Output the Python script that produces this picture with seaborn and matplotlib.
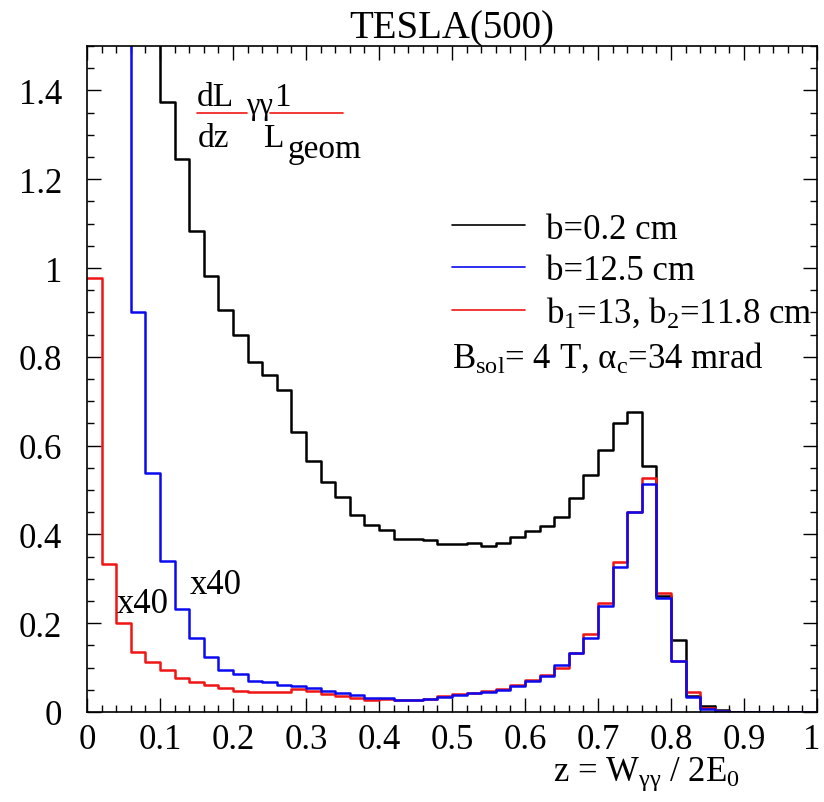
import numpy as np
import pandas as pd
import matplotlib
matplotlib.use("Agg")
import matplotlib.pyplot as plt
import matplotlib.transforms as mtransforms
import seaborn as sns
from matplotlib.lines import Line2D
from matplotlib.ticker import MultipleLocator, FuncFormatter

# ---- data: 50 bins of width 0.02 on z in [0, 1] ----
bin_edges = np.round(np.linspace(0.0, 1.0, 51), 3)
bin_centers = (bin_edges[:-1] + bin_edges[1:]) / 2

# b = 0.2 cm (first bins are off-scale, > 1.5)
black_vals = [2.6, 2.3, 2.0, 1.8, 1.6,
              1.374, 1.246, 1.083, 0.981, 0.906,
              0.849, 0.789, 0.760, 0.726, 0.631,
              0.565, 0.517, 0.484, 0.443, 0.422,
              0.410, 0.389, 0.390, 0.387, 0.378,
              0.378, 0.380, 0.375, 0.381, 0.395,
              0.407, 0.420, 0.439, 0.482, 0.533,
              0.589, 0.651, 0.675, 0.555, 0.261,
              0.162, 0.037, 0.014, 0.005, 0.0,
              0.0, 0.0, 0.0, 0.0, 0.0]

# b = 12.5 cm (x40; first bins off-scale)
blue_vals = [6.0, 4.0, 2.2, 0.900, 0.539,
             0.340, 0.231, 0.166, 0.123, 0.095,
             0.085, 0.070, 0.067, 0.061, 0.059,
             0.055, 0.048, 0.042, 0.038, 0.031,
             0.031, 0.027, 0.027, 0.029, 0.033,
             0.038, 0.042, 0.046, 0.050, 0.058,
             0.069, 0.082, 0.106, 0.133, 0.166,
             0.239, 0.327, 0.451, 0.514, 0.256,
             0.115, 0.033, 0.007, 0.003, 0.0,
             0.0, 0.0, 0.0, 0.0, 0.0]

# b1 = 13, b2 = 11.8 cm (x40)
red_vals = [0.977, 0.334, 0.200, 0.136, 0.112,
            0.095, 0.076, 0.068, 0.061, 0.053,
            0.048, 0.046, 0.044, 0.046, 0.052,
            0.048, 0.040, 0.037, 0.031, 0.028,
            0.030, 0.028, 0.027, 0.030, 0.035,
            0.040, 0.043, 0.048, 0.052, 0.060,
            0.072, 0.084, 0.098, 0.133, 0.175,
            0.245, 0.338, 0.451, 0.526, 0.269,
            0.115, 0.044, 0.010, 0.002, 0.0,
            0.0, 0.0, 0.0, 0.0, 0.0]

legend_labels = ["b=0.2 cm", "b=12.5 cm", r"b$_{\mathrm{1}}$=13, b$_{\mathrm{2}}$=11.8 cm"]
x_ticks = [0, 0.1, 0.2, 0.3, 0.4, 0.5, 0.6, 0.7, 0.8, 0.9, 1.0]
y_ticks = [0, 0.2, 0.4, 0.6, 0.8, 1.0, 1.2, 1.4]

BLACK = "#000000"
BLUE = "#0a0af0"
RED = "#f01414"

# ---- style ----
sns.set_style("ticks")
plt.rcParams["font.family"] = ["Liberation Serif", "DejaVu Serif"]
plt.rcParams["mathtext.fontset"] = "custom"
plt.rcParams["mathtext.rm"] = "Liberation Serif"
plt.rcParams["mathtext.it"] = "Liberation Serif:italic"
plt.rcParams["mathtext.bf"] = "Liberation Serif:bold"
plt.rcParams["text.color"] = "black"
plt.rcParams["axes.labelcolor"] = "black"
plt.rcParams["xtick.color"] = "black"
plt.rcParams["ytick.color"] = "black"

fig, ax = plt.subplots(figsize=(8.24, 8.03), dpi=100)
fig.subplots_adjust(left=87 / 824, right=817 / 824, bottom=1 - 713 / 803, top=1 - 47 / 803)

for vals, col in [(black_vals, BLACK), (red_vals, RED), (blue_vals, BLUE)]:
    df = pd.DataFrame({"z": bin_centers, "w": vals})
    sns.histplot(data=df, x="z", weights="w", bins=list(bin_edges), element="step",
                 fill=False, color=col, linewidth=1.8, ax=ax)

ax.set_xlim(0, 1)
ax.set_ylim(0, 1.5)
ax.set_ylabel("")
ax.set_xticks(x_ticks)
ax.set_yticks(y_ticks)
ax.xaxis.set_minor_locator(MultipleLocator(0.02))
ax.yaxis.set_minor_locator(MultipleLocator(0.05))
fmt = FuncFormatter(lambda v, p: "%g" % round(v, 3))
ax.xaxis.set_major_formatter(fmt)
ax.yaxis.set_major_formatter(fmt)
ax.tick_params(which="both", direction="in", top=True, right=True, width=1.0,
               color="black", labelcolor="black")
ax.tick_params(which="major", length=10)
ax.tick_params(which="minor", length=5)
ax.tick_params(axis="x", which="major", labelsize=25, pad=8)
ax.tick_params(axis="y", which="major", labelsize=25, pad=18)
for s in ax.spines.values():
    s.set_linewidth(1.2)
    s.set_color("black")

# nudge the last x tick label ("1") slightly left so it stays inside the figure
last_lbl = ax.get_xticklabels()[-1]
last_lbl.set_transform(last_lbl.get_transform() +
                       mtransforms.ScaledTranslation(-4 / 72, 0, fig.dpi_scale_trans))

ax.set_title("TESLA(500)", fontsize=28, pad=4, color="black")

ax.set_xlabel(r"z = W$_{\mathrm{γγ}}$ / 2E$_{\mathrm{0}}$", fontsize=25, loc="right")
ax.xaxis.label.set_va("baseline")
ax.xaxis.set_label_coords(0.895, -0.102)

# legend
handles = [Line2D([], [], color=BLACK, lw=1.2),
           Line2D([], [], color=BLUE, lw=1.2),
           Line2D([], [], color=RED, lw=1.2)]
ax.legend(handles, legend_labels, loc="center left", bbox_to_anchor=(0.5, 0.662),
          frameon=False, fontsize=25, borderpad=0, borderaxespad=0,
          handlelength=2.1, handletextpad=0.6, labelspacing=0.24)
ax.text(0.5, 0.518, r"B$_{\mathrm{sol}}$= 4 T, α$_{\mathrm{c}}$=34 mrad",
        transform=ax.transAxes, fontsize=25, va="baseline", ha="left")

# x40 labels
ax.text(0.041, 0.226, "x40", fontsize=25, va="baseline", ha="left")
ax.text(0.141, 0.269, "x40", fontsize=25, va="baseline", ha="left")

# broken fraction annotation dL_gg/dz * 1/L_geom
fs = 24
ax.text(0.150, 1.368, "dL", fontsize=fs, va="baseline")
ax.text(0.218, 1.348, "γγ", fontsize=fs - 2, va="baseline")
ax.text(0.257, 1.368, "1", fontsize=fs, va="baseline")
ax.text(0.152, 1.274, "dz", fontsize=fs, va="baseline")
ax.text(0.243, 1.274, "L", fontsize=fs, va="baseline")
ax.text(0.275, 1.251, "geom", fontsize=fs, va="baseline")
ax.add_line(Line2D([0.150, 0.219], [1.348, 1.348], color=RED, lw=1.2))
ax.add_line(Line2D([0.250, 0.350], [1.348, 1.348], color=RED, lw=1.2))

fig.savefig("out.png", dpi=100)
